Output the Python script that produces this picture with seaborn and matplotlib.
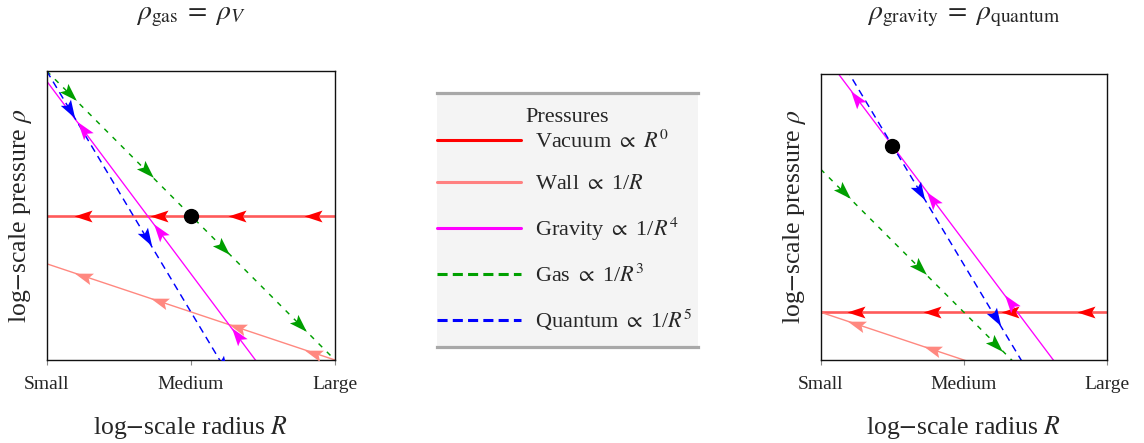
import numpy as np
import pandas as pd
import matplotlib
matplotlib.use("Agg")
import matplotlib.pyplot as plt
import seaborn as sns
from matplotlib.lines import Line2D
from matplotlib.markers import MarkerStyle
from matplotlib.path import Path
from matplotlib.transforms import Affine2D

# Pressure components
series = ["Vacuum", "Wall", "Gravity", "Gas", "Quantum"]
labels = [r"Vacuum $\propto$ $R^0$", r"Wall $\propto$ 1/$R$", r"Gravity $\propto$ 1/$R^4$",
          r"Gas $\propto$ 1/$R^3$", r"Quantum $\propto$ 1/$R^5$"]

# log-radius at the two ends of every line (Small -> Large)
radius_ends = [0.0, 1.0]
tick_positions = [0.0, 0.5, 1.0]
tick_labels = ["Small", "Medium", "Large"]

# log-pressure at the two ends of every line, left panel
left_vacuum = [0.5, 0.5]
left_wall = [0.333, 0.0]
left_gravity = [0.965, -0.368]
left_gas = [1.0, 0.0]
left_quantum = [1.0, -0.667]

# log-pressure at the two ends of every line, right panel
right_vacuum = [0.167, 0.167]
right_wall = [0.167, -0.167]
right_gravity = [1.083, -0.25]
right_gas = [0.667, -0.333]
right_quantum = [1.167, -0.5]

# balance points (log-radius, log-pressure)
left_balance = [0.5, 0.5]
right_balance = [0.25, 0.75]

# log-radius of the flow arrowheads along the lines
arrows_inward = [0.125, 0.39, 0.66, 0.925]    # vacuum, wall, gravity
arrows_outward = [0.08, 0.347, 0.613, 0.88]   # gas, quantum
# +1: pushes towards larger R, -1: towards smaller R
flow_direction = {"Vacuum": -1, "Wall": -1, "Gravity": -1, "Gas": 1, "Quantum": 1}

titles = [r"$\rho_{\mathrm{gas}}\;=\;\rho_V$", r"$\rho_{\mathrm{gravity}}\;=\;\rho_{\mathrm{quantum}}$"]

line_colors = {"Vacuum": "#ff5a5a", "Wall": "#ff8880", "Gravity": "#ff00ff",
               "Gas": "#009f00", "Quantum": "#0000ff"}
head_colors = {"Vacuum": "#ff0000", "Wall": "#ff8880", "Gravity": "#ff00ff",
               "Gas": "#009f00", "Quantum": "#0000ff"}
legend_colors = {"Vacuum": "#ff0000", "Wall": "#ff8080", "Gravity": "#ff00ff",
                 "Gas": "#00a000", "Quantum": "#0000ff"}
line_widths = {"Vacuum": 1.9, "Wall": 1.0, "Gravity": 0.95, "Gas": 1.05, "Quantum": 1.05}
line_dashes = {"Vacuum": "", "Wall": "", "Gravity": "", "Gas": (3.5, 4.5), "Quantum": (5, 3.5)}

sns.set_style("ticks")
plt.rcParams["font.family"] = ["Liberation Serif", "DejaVu Serif"]
plt.rcParams["mathtext.fontset"] = "stix"

fig = plt.figure(figsize=(11.44, 4.43), dpi=100)
W, H = 1144, 443


def px_axes(x0, y0, x1, y1):
    return fig.add_axes([x0 / W, 1 - y1 / H, (x1 - x0) / W, (y1 - y0) / H])


# notched arrowhead, pointing along +x
head_path = Path([(0.5, 0.0), (-0.5, 0.33), (-0.3, 0.0), (-0.5, -0.33), (0.5, 0.0)],
                 [Path.MOVETO, Path.LINETO, Path.LINETO, Path.LINETO, Path.CLOSEPOLY])


def draw_panel(ax, values, balance, title):
    rows = []
    for name, ys in zip(series, values):
        for x, y in zip(radius_ends, ys):
            rows.append({"series": name, "radius": x, "pressure": y})
    df = pd.DataFrame(rows)
    sns.lineplot(data=df, x="radius", y="pressure", hue="series", style="series",
                 size="series", palette=line_colors, dashes=line_dashes, sizes=line_widths,
                 sort=False, estimator=None, legend=False, ax=ax)
    ax.set_xlim(0, 1)
    ax.set_ylim(0, 1)

    for name, ys in zip(series, values):
        positions = arrows_outward if flow_direction[name] > 0 else arrows_inward
        slope = (ys[1] - ys[0]) / (radius_ends[1] - radius_ends[0])
        d = flow_direction[name] * 0.01
        for x in positions:
            y = float(np.interp(x, radius_ends, ys))
            p0 = ax.transData.transform((x, y))
            p1 = ax.transData.transform((x + d, y + d * slope))
            ang = np.degrees(np.arctan2(p1[1] - p0[1], p1[0] - p0[0]))
            m = MarkerStyle(head_path, transform=Affine2D().rotate_deg(ang))
            ax.plot([x], [y], linestyle="none", marker=m, markersize=13,
                    color=head_colors[name], markeredgewidth=0, zorder=4)

    ax.plot([balance[0]], [balance[1]], marker="o", markersize=10, color="black",
            linestyle="none", zorder=5)

    ax.set_xticks(tick_positions, tick_labels)
    ax.set_yticks([])
    ax.tick_params(axis="x", direction="out", length=3.5, width=0.8, color="#888888",
                   pad=8, labelsize=14)
    for s in ax.spines.values():
        s.set_visible(True)
        s.set_color("#111111")
        s.set_linewidth(1.0)
    ax.set_xlabel(r"log$-$scale radius $R$", fontsize=18.5, labelpad=15)
    ax.set_ylabel(r"log$-$scale pressure $\rho$", fontsize=18.5, labelpad=9)
    cx = (ax.get_position().x0 + ax.get_position().x1) / 2
    fig.text(cx, 1 - 17 / H, title, ha="center", va="center", fontsize=20)


ax_left = px_axes(46.7, 71, 335, 360)
draw_panel(ax_left, [left_vacuum, left_wall, left_gravity, left_gas, left_quantum],
           left_balance, titles[0])

ax_right = px_axes(820.7, 74, 1107, 360)
draw_panel(ax_right, [right_vacuum, right_wall, right_gravity, right_gas, right_quantum],
           right_balance, titles[1])

# legend panel
ax_leg = px_axes(437, 93, 698, 347)
ax_leg.set_facecolor("#f4f4f4")
ax_leg.set_xticks([])
ax_leg.set_yticks([])
for side in ["left", "right"]:
    ax_leg.spines[side].set_visible(False)
for side in ["top", "bottom"]:
    ax_leg.spines[side].set_visible(True)
    ax_leg.spines[side].set_color("#a8a8a8")
    ax_leg.spines[side].set_linewidth(2.3)
ax_leg.text(0.5, 0.9016, "Pressures", transform=ax_leg.transAxes, ha="center",
            va="center", fontsize=16)
handles = [Line2D([], [], color=legend_colors[n], lw=2.2,
                  linestyle=(0, (3.3, 1.7)) if line_dashes[n] else "-") for n in series]
ax_leg.legend(handles, labels, loc="center left", bbox_to_anchor=(0, 0.4535),
              frameon=False, borderpad=0, borderaxespad=0, handlelength=3.8,
              handletextpad=0.6, labelspacing=0.95, fontsize=16)

fig.savefig("out.png", dpi=100)
